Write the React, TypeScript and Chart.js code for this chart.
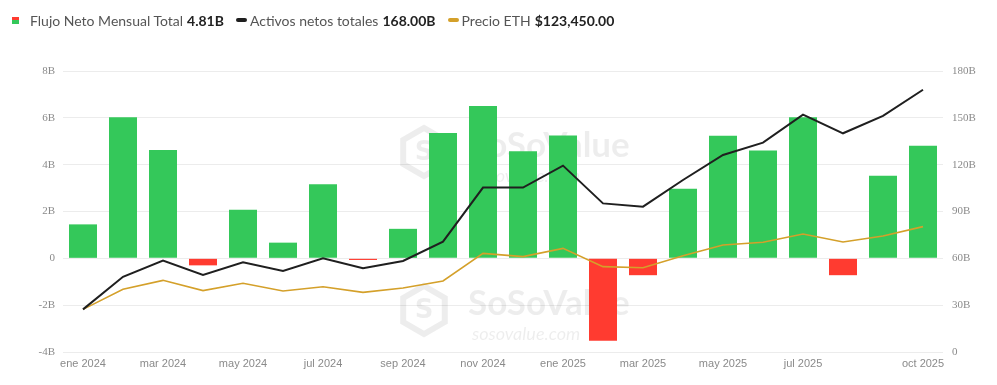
import React, { useEffect, useRef } from "react";
import { Chart, registerables } from "chart.js";

Chart.register(...registerables);

const months = [
  "ene 2024", "feb 2024", "mar 2024", "abr 2024", "may 2024", "jun 2024",
  "jul 2024", "ago 2024", "sep 2024", "oct 2024", "nov 2024", "dic 2024",
  "ene 2025", "feb 2025", "mar 2025", "abr 2025", "may 2025", "jun 2025",
  "jul 2025", "ago 2025", "sep 2025", "oct 2025",
];

// Monthly net flow, billions
const netFlow = [
  1.45, 6.03, 4.63, -0.3, 2.08, 0.67, 3.16, -0.07, 1.26, 5.35, 6.51, 4.57,
  5.25, -3.52, -0.72, 2.97, 5.23, 4.61, 6.03, -0.72, 3.53, 4.81,
];

// Total net assets, billions
const netAssets = [
  27.3, 48.2, 58.5, 49.3, 57.4, 51.9, 60.0, 53.6, 58.3, 70.7, 105.3, 105.3,
  119.4, 95.2, 93.1, 110.2, 126.2, 134.1, 152.0, 140.1, 151.2, 168.0,
];

// ETH price line (plotted on a hidden scale matching the right axis)
const ethPrice = [
  27.3, 40.2, 45.9, 39.3, 44.0, 39.1, 41.8, 38.2, 41.0, 45.5, 63.2, 61.1,
  66.4, 54.7, 54.0, 61.7, 68.5, 70.3, 75.6, 70.5, 74.3, 80.3,
];

const leftTicks = [-4, -2, 0, 2, 4, 6, 8];
const rightTicks = [0, 30, 60, 90, 120, 150, 180];

const GREEN = "#34C85A";
const RED = "#FF3B30";
const BLACK = "#1f1f1f";
const GOLD = "#D4A02A";

const watermark = {
  id: "watermark",
  beforeDatasetsDraw(chart: any) {
    const ctx = chart.ctx;
    ctx.save();
    const drawMark = (x: number, y: number) => {
      // hexagon logo
      ctx.strokeStyle = "rgba(0,0,0,0.07)";
      ctx.lineWidth = 6;
      ctx.beginPath();
      const r = 24;
      for (let i = 0; i < 6; i++) {
        const a = Math.PI / 6 + (i * Math.PI) / 3;
        const px = x + 22 + r * Math.cos(a);
        const py = y + r * Math.sin(a);
        if (i === 0) ctx.moveTo(px, py);
        else ctx.lineTo(px, py);
      }
      ctx.closePath();
      ctx.stroke();
      ctx.fillStyle = "rgba(0,0,0,0.07)";
      ctx.font = "bold 26px 'DejaVu Sans', sans-serif";
      ctx.textAlign = "center";
      ctx.textBaseline = "middle";
      ctx.fillText("S", x + 22, y + 1);
      ctx.textAlign = "left";
      ctx.font = "bold 35px Lato, sans-serif";
      ctx.fillText("SoSoValue", x + 66, y - 6);
      ctx.font = "italic 18px Lato, sans-serif";
      ctx.fillText("sosovalue.com", x + 70, y + 24);
    };
    drawMark(402, 152);
    drawMark(402, 310);
    ctx.restore();
  },
};

const legendItem: React.CSSProperties = {
  display: "inline-flex",
  alignItems: "center",
  marginRight: 12,
};

export default function App() {
  const ref = useRef<HTMLCanvasElement | null>(null);

  useEffect(() => {
    if (!ref.current) return;
    const chart = new Chart(ref.current, {
      type: "bar",
      data: {
        labels: months,
        datasets: [
          {
            type: "line",
            label: "Activos netos totales",
            data: netAssets,
            yAxisID: "y1",
            borderColor: BLACK,
            borderWidth: 2,
            pointRadius: 0,
            tension: 0,
            order: 0,
          } as any,
          {
            type: "line",
            label: "Precio ETH",
            data: ethPrice,
            yAxisID: "y2",
            borderColor: GOLD,
            borderWidth: 1.6,
            pointRadius: 0,
            tension: 0,
            order: 1,
          } as any,
          {
            type: "bar",
            label: "Flujo Neto Mensual Total",
            data: netFlow,
            yAxisID: "y",
            backgroundColor: netFlow.map((v) => (v >= 0 ? GREEN : RED)),
            barPercentage: 0.7,
            categoryPercentage: 1,
            order: 2,
          },
        ],
      },
      options: {
        animation: false,
        responsive: false,
        maintainAspectRatio: false,
        layout: { padding: { top: 71, left: 0, right: 0, bottom: 0 } },
        plugins: {
          legend: { display: false },
          tooltip: { enabled: false },
        },
        scales: {
          x: {
            grid: { display: false, drawTicks: false },
            border: { display: false },
            ticks: {
              autoSkip: false,
              maxRotation: 0,
              padding: 5,
              color: "#8a8a8a",
              font: { size: 11, family: "'Liberation Sans', Arial, sans-serif" },
              callback: (_v: any, i: number) =>
                (i % 2 === 0 && i <= 18) || i === months.length - 1 ? months[i] : "",
            },
            afterFit: (s: any) => {
              s.height = 33;
            },
          },
          y: {
            position: "left",
            min: leftTicks[0],
            max: leftTicks[leftTicks.length - 1],
            afterBuildTicks: (s: any) => {
              s.ticks = leftTicks.map((v) => ({ value: v }));
            },
            grid: { color: "#ececec", drawTicks: false, lineWidth: 1 },
            border: { display: false },
            ticks: {
              padding: 8,
              color: "#8a8a8a",
              font: { size: 11, family: "'Liberation Serif', serif" },
              callback: (v: any) => (v === 0 ? "0" : `${v}B`),
            },
            afterFit: (s: any) => {
              s.width = 63;
            },
          },
          y1: {
            position: "right",
            min: rightTicks[0],
            max: rightTicks[rightTicks.length - 1],
            afterBuildTicks: (s: any) => {
              s.ticks = rightTicks.map((v) => ({ value: v }));
            },
            grid: { display: false, drawTicks: false },
            border: { display: false },
            ticks: {
              padding: 9,
              color: "#8a8a8a",
              font: { size: 11, family: "'Liberation Serif', serif" },
              callback: (v: any) => (v === 0 ? "0" : `${v}B`),
            },
            afterFit: (s: any) => {
              s.width = 54;
            },
          },
          y2: {
            display: false,
            min: 0,
            max: 180,
          },
        },
      },
      plugins: [watermark],
    });
    return () => chart.destroy();
  }, []);

  const label: React.CSSProperties = { color: "#555", marginRight: 4 };
  const value: React.CSSProperties = { color: "#222", fontWeight: 700 };

  return (
    <div
      style={{
        position: "fixed",
        left: 0,
        top: 0,
        width: 997,
        height: 385,
        background: "#fff",
        overflow: "hidden",
      }}
    >
      <canvas ref={ref} width={997} height={385} style={{ position: "absolute", left: 0, top: 0 }} />
      <div
        style={{
          position: "absolute",
          left: 12,
          top: 10,
          height: 20,
          display: "flex",
          alignItems: "center",
          fontFamily: "Lato, 'Noto Sans', sans-serif",
          fontSize: 14,
          whiteSpace: "nowrap",
        }}
      >
        <span style={legendItem}>
          <span
            style={{
              display: "inline-block",
              width: 7,
              height: 7,
              marginRight: 11,
              background: `linear-gradient(${RED} 0 50%, ${GREEN} 50% 100%)`,
            }}
          />
          <span style={label}>Flujo Neto Mensual Total</span>
          <span style={value}>4.81B</span>
        </span>
        <span style={legendItem}>
          <span
            style={{
              display: "inline-block",
              width: 11,
              height: 4,
              borderRadius: 2,
              marginRight: 3,
              background: BLACK,
            }}
          />
          <span style={label}>Activos netos totales</span>
          <span style={value}>168.00B</span>
        </span>
        <span style={legendItem}>
          <span
            style={{
              display: "inline-block",
              width: 11,
              height: 4,
              borderRadius: 2,
              marginRight: 3,
              background: GOLD,
            }}
          />
          <span style={label}>Precio ETH</span>
          <span style={value}>$123,450.00</span>
        </span>
      </div>
    </div>
  );
}
